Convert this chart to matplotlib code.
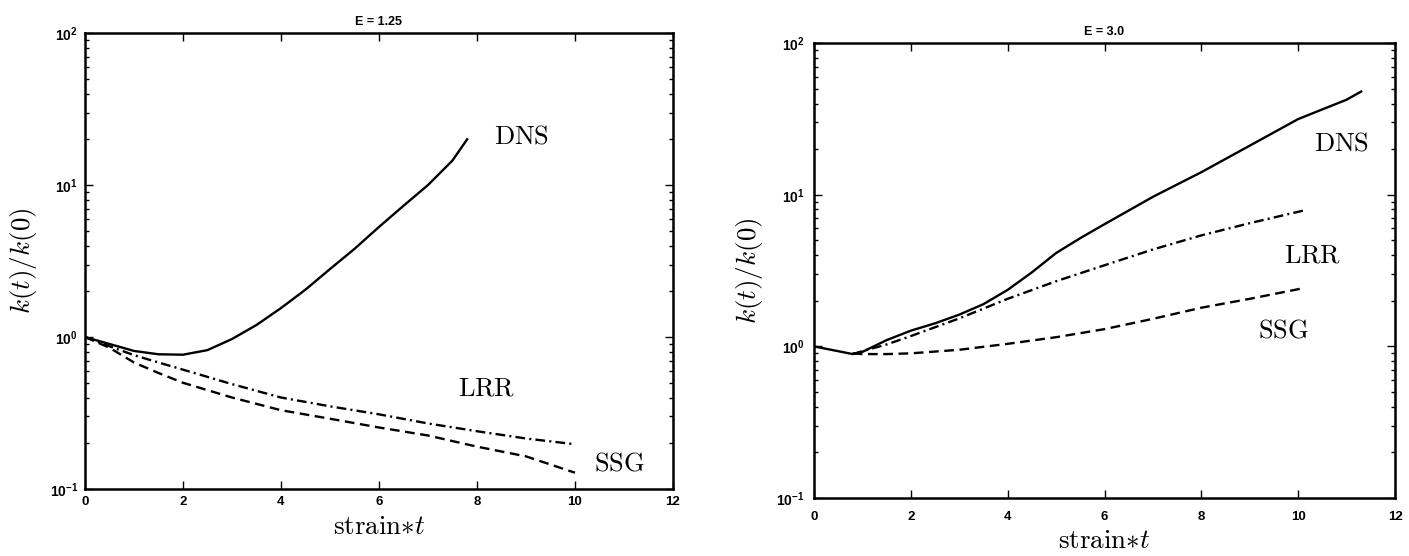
import matplotlib
matplotlib.use("Agg")
import matplotlib.pyplot as plt
from matplotlib.ticker import FixedLocator, LogLocator, NullFormatter

plt.rcParams["lines.scale_dashes"] = False
# tick labels / titles: bold Helvetica-like; axis labels and curve names: Computer Modern
plt.rcParams["font.family"] = ["Liberation Sans", "DejaVu Sans"]
plt.rcParams["mathtext.fontset"] = "custom"
plt.rcParams["mathtext.bf"] = "Liberation Sans:bold"
plt.rcParams["mathtext.rm"] = "Liberation Sans"

# ---- E = 1.25 (left) ----
t_dns_a = [0, 0.5, 1, 1.5, 2, 2.5, 3, 3.5, 4, 4.5, 5, 5.5, 6, 6.5, 7, 7.5, 7.8]
k_dns_a = [1.0, 0.9, 0.81, 0.77, 0.765, 0.82, 0.97, 1.2, 1.55, 2.05, 2.8, 3.8, 5.3, 7.3, 10.0, 14.5, 20.0]
t_mod_a = [0, 0.5, 1, 1.5, 2, 3, 4, 5, 6, 7, 8, 9, 10]
k_lrr_a = [1.0, 0.87, 0.76, 0.68, 0.61, 0.49, 0.40, 0.35, 0.31, 0.27, 0.24, 0.215, 0.197]
k_ssg_a = [1.0, 0.85, 0.68, 0.58, 0.50, 0.40, 0.33, 0.29, 0.254, 0.225, 0.19, 0.164, 0.128]

# ---- E = 3.0 (right) ----
t_dns_b = [0, 0.5, 0.8, 1, 1.5, 2, 2.5, 3, 3.5, 4, 4.5, 5, 5.5, 6, 7, 8, 9, 10, 11, 11.3]
k_dns_b = [1.0, 0.93, 0.89, 0.92, 1.1, 1.27, 1.42, 1.62, 1.9, 2.36, 3.08, 4.13, 5.18, 6.4,
           9.7, 14.1, 21.1, 31.6, 42.4, 48.0]
t_mod_b = [0.8, 1, 1.5, 2, 3, 4, 5, 6, 7, 8, 9, 10.1]
k_lrr_b = [0.89, 0.93, 1.03, 1.17, 1.53, 2.06, 2.69, 3.43, 4.36, 5.4, 6.5, 7.86]
k_ssg_b = [0.9, 0.89, 0.89, 0.9, 0.95, 1.04, 1.15, 1.3, 1.52, 1.8, 2.06, 2.42]

panels = [
    dict(title="E = 1.25", rect=[0.0603, 0.1205, 0.4173, 0.820], xpad=5, ypad=5,
         dns=(t_dns_a, k_dns_a), lrr=(t_mod_a, k_lrr_a), ssg=(t_mod_a, k_ssg_a),
         labels=[("DNS", 8.9, 21.0), ("LRR", 8.2, 0.46), ("SSG", 10.9, 0.148)]),
    dict(title="E = 3.0", rect=[0.5777, 0.1043, 0.4124, 0.818], xpad=9, ypad=7,
         dns=(t_dns_b, k_dns_b), lrr=(t_mod_b, k_lrr_b), ssg=(t_mod_b, k_ssg_b),
         labels=[("DNS", 10.9, 21.7), ("LRR", 10.3, 4.0), ("SSG", 9.7, 1.27)]),
]

x_ticks = [0, 2, 4, 6, 8, 10, 12]
y_ticks = [0.1, 1, 10, 100]
y_ticklabels = [r"$\mathbf{10^{-1}}$", r"$\mathbf{10^{0}}$", r"$\mathbf{10^{1}}$", r"$\mathbf{10^{2}}$"]

fig = plt.figure(figsize=(14.09, 5.56), dpi=100)
for p in panels:
    ax = fig.add_axes(p["rect"])
    ax.plot(*p["dns"], color="black", lw=1.7, ls="-")
    ax.plot(*p["lrr"], color="black", lw=1.7, ls=(0, (7, 3, 1.5, 3)))
    ax.plot(*p["ssg"], color="black", lw=1.7, ls=(0, (7, 4)))
    ax.set_yscale("log")
    ax.set_xlim(0, 12)
    ax.set_ylim(0.1, 100)
    ax.xaxis.set_major_locator(FixedLocator(x_ticks))
    ax.set_xticklabels([str(v) for v in x_ticks], fontweight="bold", fontsize=9.5)
    ax.yaxis.set_major_locator(FixedLocator(y_ticks))
    ax.set_yticklabels(y_ticklabels, fontsize=10, math_fontfamily="custom")
    ax.yaxis.set_minor_locator(LogLocator(base=10, subs=range(2, 10)))
    ax.yaxis.set_minor_formatter(NullFormatter())
    ax.tick_params(which="both", direction="in", top=True, right=True, width=1.0)
    ax.tick_params(which="major", length=6)
    ax.tick_params(which="minor", length=3)
    ax.tick_params(axis="x", which="major", pad=p["xpad"])
    ax.tick_params(axis="y", which="major", pad=p["ypad"])
    for s in ax.spines.values():
        s.set_linewidth(1.8)
    ax.set_title(p["title"], fontsize=9, fontweight="bold", pad=6)
    ax.set_ylabel(r"$k(t)/k(0)$", fontsize=19.5, math_fontfamily="cm", labelpad=8)
    ax.set_xlabel(r"$\mathrm{strain}{\ast}t$", fontsize=19.5, math_fontfamily="cm", labelpad=4)
    for name, x, y in p["labels"]:
        ax.text(x, y, r"$\mathrm{%s}$" % name, fontsize=19, math_fontfamily="cm",
                ha="center", va="center")

fig.savefig("out.png", dpi=100)
